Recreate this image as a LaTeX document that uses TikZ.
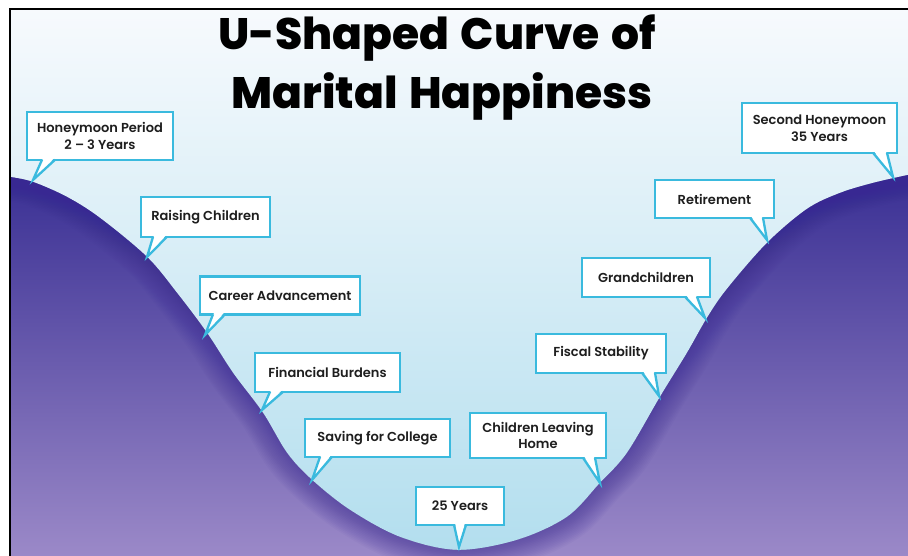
\documentclass[tikz,border=0pt]{standalone}
\usepackage{fontspec}
\setmainfont{Poppins}
\newfontfamily\cfont{Poppins SemiBold}
\newfontfamily\tfont{Poppins ExtraBold}[WordSpace=1.35]
\usetikzlibrary{calc,shadows}
\definecolor{cbord}{RGB}{58,186,222}
\definecolor{ctext}{RGB}{30,30,30}
\definecolor{bgtop}{RGB}{247,250,253}
\definecolor{bgmid}{RGB}{216,237,246}
\definecolor{bgbot}{RGB}{178,222,238}
\definecolor{hilltop}{RGB}{58,48,148}
\definecolor{hillmid}{RGB}{86,70,170}
\definecolor{hillbot}{RGB}{155,137,200}
\definecolor{hilledge}{RGB}{56,40,146}
\tikzset{
  callout/.style={draw=cbord, line width=2.3pt, fill=white, outer sep=0pt, inner sep=0pt,
    align=center, font=\cfont\fontsize{13}{16.5}\selectfont, text=ctext,
    drop shadow={shadow xshift=1.3pt, shadow yshift=-1.3pt, opacity=0.22, fill=black}},
  tailline/.style={draw=cbord, line width=2.3pt, line join=miter},
  titletext/.style={font=\tfont\fontsize{44}{48}\selectfont, text=black, inner sep=0pt},
}
\newcommand\hillcurve{plot[smooth, tension=0.55] coordinates {(10,177) (33,182) (67,197) (100,218) (147,257) (177,293) (207,333) (233,373) (263,413) (287,453) (312,480) (350,510) (400,537) (457,550) (517,540) (567,517) (600,483) (627,453) (660,397) (687,353) (707,318) (727,289) (767,243) (807,209) (840,193) (873,183) (908,175)}}
% #1 node, #2 #3 base offsets from south west, #4 tip
\newcommand\calltail[4]{%
  \fill[white] ($(#1.south west)+(#2+1.1,-1.7)$) -- (#4) -- ($(#1.south west)+(#3-1.1,-1.7)$) -- cycle;
  \draw[tailline] ($(#1.south west)+(#2,-0.2)$) -- (#4) -- ($(#1.south west)+(#3,-0.2)$);}
\begin{document}
\begin{tikzpicture}[x=1pt, y=-1pt]
\useasboundingbox (0,0) rectangle (908,556);
% background
\shade[top color=bgtop, middle color=bgmid, bottom color=bgbot] (10,9) rectangle (908,556);
% hill
\shade[top color=hilltop, middle color=hillmid, bottom color=hillbot]
  \hillcurve -- (908,556) -- (10,556) -- cycle;
\begin{scope}
  \clip \hillcurve -- (908,556) -- (10,556) -- cycle;
  \foreach \w in {3,6,...,48} {\draw[hilledge, line width=\w pt, opacity=0.04] \hillcurve;}
\end{scope}
% frame
\draw[black, line width=2pt] (10,556) -- (10,9) -- (908,9);
% title
\node[titletext, anchor=base] (t1) at (437,50) {U-Shaped Curve of};
\node[titletext, anchor=base] (t2) at (442,109) {Marital Happiness};
% callouts
\node[callout, minimum width=146pt, minimum height=48pt] (hp) at (100,136) {Honeymoon Period\\2 – 3 Years};
\coordinate (hpT) at (33,180);
\calltail{hp}{15}{28}{hpT}
\node[callout, minimum width=129pt, minimum height=40pt] (rc) at (205.5,217) {Raising Children};
\coordinate (rcT) at (147,257);
\calltail{rc}{12}{26}{rcT}
\node[callout, minimum width=160pt, minimum height=38pt] (ca) at (280,295.5) {Career Advancement};
\coordinate (caT) at (205,335);
\calltail{ca}{13}{25}{caT}
\node[callout, minimum width=145pt, minimum height=39pt] (fb) at (327.5,372.5) {Financial Burdens};
\coordinate (fbT) at (262,410);
\calltail{fb}{15}{28}{fbT}
\node[callout, minimum width=145pt, minimum height=38pt] (sc) at (377.5,438) {Saving for College};
\coordinate (scT) at (312,480);
\calltail{sc}{15}{27}{scT}
\node[callout, minimum width=88pt, minimum height=38pt] (y25) at (460,506) {25 Years};
\coordinate (y25T) at (459,547);
\calltail{y25}{38}{50}{y25T}
\node[callout, minimum width=136pt, minimum height=45pt] (clh) at (538,435.5) {Children Leaving\\Home};
\coordinate (clhT) at (600,483);
\calltail{clh}{113}{125}{clhT}
\node[callout, minimum width=130pt, minimum height=39pt] (fs) at (601,353.5) {Fiscal Stability};
\coordinate (fsT) at (659,396);
\calltail{fs}{106}{119}{fsT}
\node[callout, minimum width=128pt, minimum height=39pt] (gc) at (646,277.5) {Grandchildren};
\coordinate (gcT) at (705,318);
\calltail{gc}{103}{115}{gcT}
\node[callout, minimum width=119pt, minimum height=38pt] (rt) at (714.5,199) {Retirement};
\coordinate (rtT) at (767,240);
\calltail{rt}{95}{108}{rtT}
\node[callout, minimum width=155pt, minimum height=50pt] (sh) at (819.5,128) {Second Honeymoon\\35 Years};
\coordinate (shT) at (893,177);
\calltail{sh}{131}{145}{shT}
\end{tikzpicture}
\end{document}
